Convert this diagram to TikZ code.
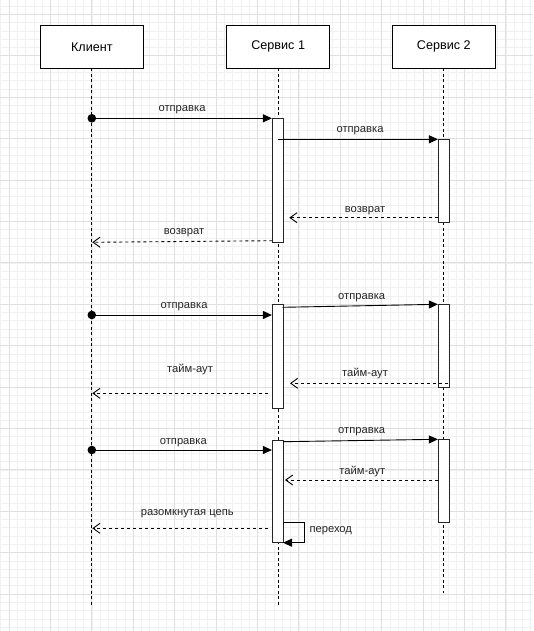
\documentclass[tikz,border=0pt]{standalone}
\usepackage{fontspec}
\setmainfont{Liberation Sans}
\usetikzlibrary{arrows.meta}

\tikzset{
  actor/.style={draw=black, line width=0.9pt, fill=white, minimum width=103pt,
    minimum height=42.5pt, inner sep=0pt, font=\fontsize{12.6}{14}\selectfont},
  lifeline/.style={line width=0.9pt, dash pattern=on 3pt off 2.5pt},
  akt/.style={draw=black!85, line width=0.9pt, fill=white, minimum width=10.7pt,
    inner sep=0pt, anchor=north},
  call/.style={line width=0.9pt, -{Triangle[length=9pt,width=8pt]}},
  reply/.style={line width=0.9pt, dash pattern=on 3pt off 3pt,
    -{Straight Barb[length=7pt,width=10pt,line width=0.9pt]}},
  lbl/.style={font=\fontsize{11.2}{13}\selectfont, anchor=base, inner sep=0pt, text=black!85},
}

\begin{document}
\begin{tikzpicture}[x=1pt, y=-1pt]
		%%%%% START %%%%%
		
		\fill[white] (0,0) rectangle (533,631);
		\useasboundingbox (0,0) rectangle (533,631);
		
		% grid
		\foreach \i in {0,...,64}
			\draw[line width=0.6pt, color=black!6] (0.72+8.28*\i, 0) -- (0.72+8.28*\i, 631);
		\foreach \i in {0,...,75}
			\draw[line width=0.6pt, color=black!6] (0, 6.12+8.28*\i) -- (533, 6.12+8.28*\i);
		\foreach \i in {0,...,12}
			\draw[line width=0.7pt, color=black!12] (9+41.4*\i, 0) -- (9+41.4*\i, 631);
		\foreach \i in {0,...,14}
			\draw[line width=0.7pt, color=black!12] (0, 14.4+41.4*\i) -- (533, 14.4+41.4*\i);
		
		% actors and lifelines
		\node[actor] (klient) at (91.8, 46.75) {Клиент};
		\node[actor] (servis1) at (278.2, 46.75) {Сервис 1};
		\node[actor] (servis2) at (443.8, 46.75) {Сервис 2};
		
		\coordinate (klientEnd) at (91.8, 604.6);
		\coordinate (servis1End) at (278.2, 604.6);
		\coordinate (servis2End) at (443.8, 592.7);
		\draw[lifeline] (klient.south) -- (klientEnd);
		\draw[lifeline] (servis1.south) -- (servis1End);
		\draw[lifeline] (servis2.south) -- (servis2End);
		
		% activation bars
		\node[akt, minimum height=124pt] (akt11) at (277.7, 118.3) {};
		\node[akt, minimum height=82.7pt] (akt21) at (443.7, 139.3) {};
		\node[akt, minimum height=103.7pt] (akt12) at (277.7, 304.3) {};
		\node[akt, minimum height=83pt] (akt22) at (443.7, 304.3) {};
		\node[akt, minimum height=102.3pt] (akt13) at (277.7, 440) {};
		\node[akt, minimum height=82.4pt] (akt23) at (443.7, 439.3) {};
		
		%% first call
		\coordinate (start1) at (91.8, 118.3);
		\coordinate (send1) at (278, 139.3);
		\coordinate (ret1a) at (438.3, 217.7);
		\coordinate (ret1b) at (289.3, 217.7);
		\coordinate (ret1c) at (272.3, 240.7);
		\coordinate (ret1d) at (92.3, 242.3);
		\fill (start1) circle (4.3);
		\draw[call] (start1) -- (akt11.north west);
		\draw[call] (send1) -- (akt21.north west);
		\draw[reply] (ret1a) -- (ret1b);
		\draw[reply] (ret1c) -- (ret1d);
		\node[lbl] (l11) at (182, 112) {отправка};
		\node[lbl] (l12) at (360, 133) {отправка};
		\node[lbl] (l13) at (365, 212) {возврат};
		\node[lbl] (l14) at (184, 234.7) {возврат};
		
		%% second call
		\coordinate (start2) at (91.8, 315);
		\coordinate (send2) at (282.7, 307.3);
		\coordinate (ret2a) at (447.7, 383.3);
		\coordinate (ret2b) at (290, 383.3);
		\coordinate (ret2c) at (268, 393.3);
		\coordinate (ret2d) at (92.3, 393.3);
		\fill (start2) circle (4.3);
		\draw[call] (start2) -- (start2 -| akt12.west);
		\draw[call] (send2) -- (akt22.north west);
		\draw[reply] (ret2a) -- (ret2b);
		\draw[reply] (ret2c) -- (ret2d);
		\node[lbl] (l21) at (184, 308.7) {отправка};
		\node[lbl] (l22) at (361.7, 299) {отправка};
		\node[lbl] (l23) at (365, 376.3) {тайм-аут};
		\node[lbl] (l24) at (190, 372) {тайм-аут};
		
		%% third call
		\coordinate (start3) at (91.8, 450);
		\coordinate (send3) at (283, 441.7);
		\coordinate (ret3a) at (438.3, 480);
		\coordinate (ret3b) at (285, 480);
		\coordinate (ret3c) at (268, 528.3);
		\coordinate (ret3d) at (92.3, 528.3);
		\coordinate (loopA) at (283, 522.3);
		\coordinate (loopB) at (283, 542.7);
		\fill (start3) circle (4.3);
		\draw[call] (start3) -- (start3 -| akt13.west);
		\draw[call] (send3) -- (akt23.north west);
		\draw[reply] (ret3a) -- (ret3b);
		\draw[reply] (ret3c) -- (ret3d);
		\draw[call] (loopA) -- ++(21.3, 0) |- (loopB);
		\node[lbl] (l31) at (183.3, 444.3) {отправка};
		\node[lbl] (l32) at (361.7, 433.7) {отправка};
		\node[lbl] (l33) at (362.3, 474.3) {тайм-аут};
		\node[lbl] (l34) at (187.3, 515.3) {разомкнутая цепь};
		\node[lbl, anchor=base west] (l35) at (309.3, 532.3) {переход};
		
		%%%%% END %%%%%
	\end{tikzpicture}
\end{document}
